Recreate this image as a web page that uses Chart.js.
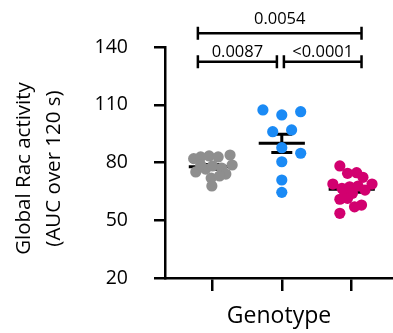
<!DOCTYPE html>
<html>
<head>
<meta charset="utf-8">
<script src="https://cdn.jsdelivr.net/npm/chart.js@4/dist/chart.umd.min.js"></script>
<style>
  html, body { margin: 0; padding: 0; background: #fff; }
  #wrap { width: 393px; height: 333px; }
</style>
</head>
<body>
<div id="wrap"><canvas id="c" width="393" height="333"></canvas></div>
<script>
// ---- data ----
const genotypes = ['Genotype 1', 'Genotype 2', 'Genotype 3'];
const groupPositions = [1, 2, 3];
const yTickValues = [20, 50, 80, 110, 140];
const yTitleLines = ['Global Rac activity', '(AUC over 120 s)'];

const grayValues  = [82.0, 82.9, 83.4, 82.9, 83.9, 78.7, 75.1, 76.6, 78.2, 77.1, 74.0, 71.9, 73.0, 67.8, 78.7];
const grayJitter  = [-0.26, -0.16, -0.04, 0.09, 0.26, 0.29, -0.23, -0.09, 0.01, 0.14, 0.20, -0.01, 0.11, 0.00, -0.16];

const blueValues  = [107.3, 104.7, 106.4, 96.0, 96.9, 87.7, 84.8, 80.4, 70.9, 64.5];
const blueJitter  = [-0.27, 0.00, 0.27, -0.13, 0.14, 0.00, 0.27, 0.00, 0.00, 0.00];

const pinkValues  = [78.2, 74.4, 74.7, 72.3, 68.8, 68.8, 66.6, 67.4, 67.8, 65.7, 64.3, 64.0, 60.9, 61.4, 57.0, 57.9, 53.6];
const pinkJitter  = [-0.17, -0.06, 0.07, 0.16, 0.29, -0.27, -0.14, -0.03, 0.09, 0.19, -0.10, 0.01, -0.17, -0.06, 0.04, 0.14, -0.17];

const bracketPairs  = [[1, 3], [1, 2], [2, 3]];
const bracketLabels = ['0.0054', '0.0087', '<0.0001'];
const bracketLevels = [147.1, 132.4, 132.4];

// ---- build ----
const groupValues = [grayValues, blueValues, pinkValues];
const groupJitter = [grayJitter, blueJitter, pinkJitter];
const groupColors = ['#8e8e8e', '#1a8af5', '#d2006f'];

const datasets = groupValues.map((vals, i) => ({
  label: genotypes[i],
  data: vals.map((v, k) => ({ x: groupPositions[i] + groupJitter[i][k], y: v })),
  backgroundColor: groupColors[i],
  borderWidth: 0,
  pointRadius: 5.6,
  pointHoverRadius: 5.6,
  clip: false
}));

const FONT = '"Open Sans", "DejaVu Sans", sans-serif';

const overlayPlugin = {
  id: 'overlay',
  beforeDatasetsDraw(chart) {
    const { ctx, scales: { x, y } } = chart;
    ctx.save();
    ctx.strokeStyle = '#000';
    ctx.lineWidth = 3;
    ctx.lineCap = 'butt';
    groupValues.forEach((vals, i) => {
      const n = vals.length;
      const m = vals.reduce((a, b) => a + b, 0) / n;
      const sd = Math.sqrt(vals.reduce((a, b) => a + (b - m) * (b - m), 0) / (n - 1));
      const sem = sd / Math.sqrt(n);
      const g = groupPositions[i];
      const cx = x.getPixelForValue(g);
      const x0 = x.getPixelForValue(g - 0.33), x1 = x.getPixelForValue(g + 0.33);
      const c0 = x.getPixelForValue(g - 0.15), c1 = x.getPixelForValue(g + 0.15);
      const ym = y.getPixelForValue(m), yt = y.getPixelForValue(m + sem), yb = y.getPixelForValue(m - sem);
      ctx.beginPath();
      ctx.moveTo(x0, ym); ctx.lineTo(x1, ym);
      ctx.moveTo(cx, yt); ctx.lineTo(cx, yb);
      ctx.moveTo(c0, yt); ctx.lineTo(c1, yt);
      ctx.moveTo(c0, yb); ctx.lineTo(c1, yb);
      ctx.stroke();
    });
    ctx.restore();
  },
  afterDraw(chart) {
    const { ctx, chartArea, scales: { x, y } } = chart;
    const startPad = { 1: -0.2, 2: 0.03 };
    const endPad = { 2: -0.07, 3: 0.14 };
    ctx.save();
    ctx.strokeStyle = '#000';
    ctx.fillStyle = '#000';
    ctx.lineWidth = 2.5;
    ctx.font = '16.5px ' + FONT;
    ctx.textAlign = 'center';
    ctx.textBaseline = 'alphabetic';
    bracketPairs.forEach(([a, b], i) => {
      const xa = x.getPixelForValue(a + startPad[a]);
      const xb = x.getPixelForValue(b + endPad[b]);
      const yy = y.getPixelForValue(bracketLevels[i]);
      const cap = 6.5;
      ctx.beginPath();
      ctx.moveTo(xa, yy); ctx.lineTo(xb, yy);
      ctx.moveTo(xa, yy - cap); ctx.lineTo(xa, yy + cap);
      ctx.moveTo(xb, yy - cap); ctx.lineTo(xb, yy + cap);
      ctx.stroke();
      const gap = i === 0 ? 9.5 : 5;
      ctx.fillText(bracketLabels[i], (xa + xb) / 2, yy - gap);
    });
    // y axis title (two lines, rotated)
    ctx.font = '20.5px ' + FONT;
    ctx.textBaseline = 'alphabetic';
    const cy = (chartArea.top + chartArea.bottom) / 2 + 6;
    ctx.translate(0, cy);
    ctx.rotate(-Math.PI / 2);
    ctx.fillText(yTitleLines[0], 0, 30);
    ctx.fillText(yTitleLines[1], 0, 60);
    ctx.restore();
  }
};

new Chart(document.getElementById('c'), {
  type: 'scatter',
  data: { datasets },
  options: {
    responsive: false,
    animation: false,
    devicePixelRatio: 1,
    layout: { autoPadding: false, padding: { top: 47, left: 0, right: 0, bottom: 0 } },
    plugins: { legend: { display: false }, tooltip: { enabled: false } },
    scales: {
      x: {
        type: 'linear',
        min: 0.33,
        max: 3.59,
        afterBuildTicks(scale) { scale.ticks = groupPositions.map(v => ({ value: v })); },
        afterFit(scale) { scale.height = 55; },
        ticks: { display: false },
        grid: { drawOnChartArea: false, drawTicks: true, tickLength: 13, color: '#000', lineWidth: 2.5 },
        border: { display: true, color: '#000', width: 2.5 },
        title: {
          display: true,
          text: 'Genotype',
          color: '#000',
          font: { family: FONT, size: 23 },
          padding: { top: 11, bottom: 3 }
        }
      },
      y: {
        min: 20,
        max: 140,
        afterBuildTicks(scale) { scale.ticks = yTickValues.map(v => ({ value: v })); },
        afterFit(scale) { scale.width = 165; },
        ticks: { color: '#000', font: { family: FONT, size: 19.5 }, padding: 26 },
        grid: { drawOnChartArea: false, drawTicks: true, tickLength: 11, color: '#000', lineWidth: 2.5 },
        border: { display: true, color: '#000', width: 2.5 },
        title: { display: false }
      }
    }
  },
  plugins: [overlayPlugin]
});
</script>
</body>
</html>
